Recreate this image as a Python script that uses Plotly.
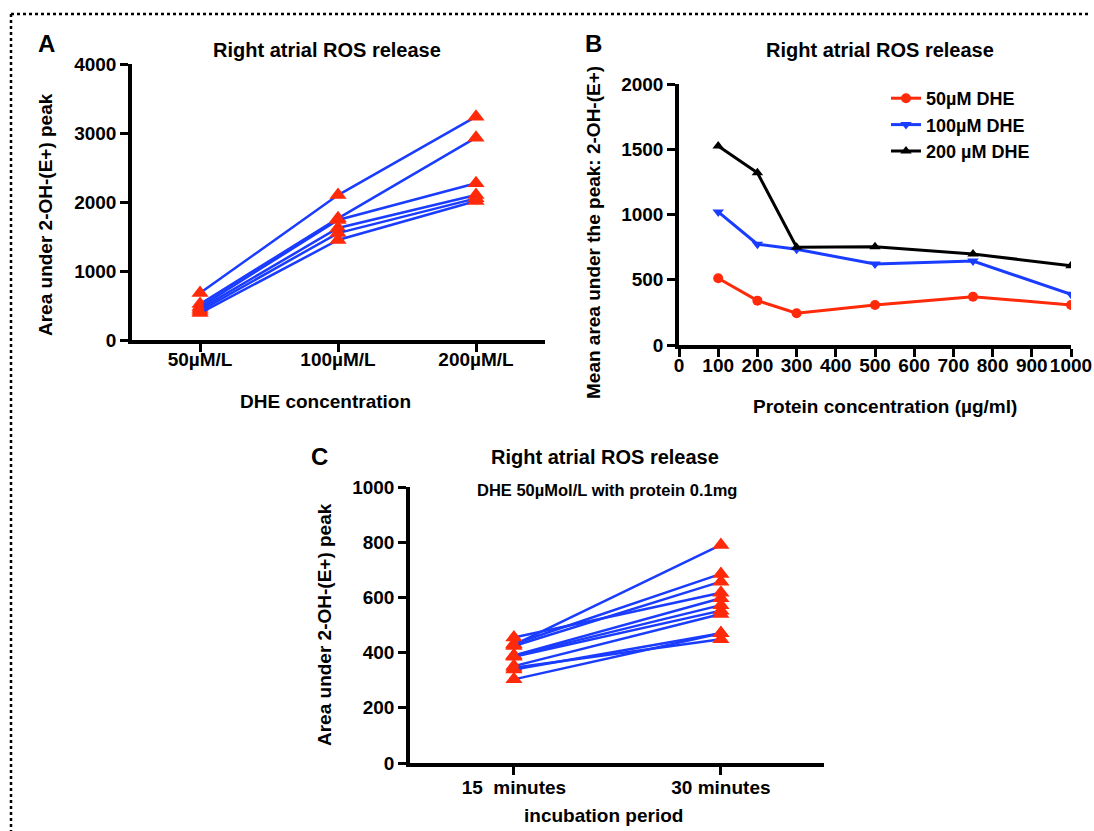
import plotly.graph_objects as go

# ---- Panel A: ROS release vs DHE concentration (paired subjects) ----
dhe_labels = ["50µM/L", "100µM/L", "200µM/L"]
a_subject1 = [680, 2100, 3237]
a_subject2 = [520, 1763, 2932]
a_subject3 = [480, 1740, 2271]
a_subject4 = [450, 1623, 2101]
a_subject5 = [420, 1550, 2053]
a_subject6 = [390, 1449, 2014]
a_subjects = [a_subject1, a_subject2, a_subject3, a_subject4, a_subject5, a_subject6]

# ---- Panel B: mean area vs protein concentration ----
protein_conc = [100, 200, 300, 500, 750, 1000]
b_dhe50 = [511, 340, 243, 307, 370, 307]
b_dhe100 = [1020, 772, 733, 621, 644, 388]
b_dhe200 = [1525, 1320, 749, 753, 697, 608]

# ---- Panel C: incubation period (paired samples) ----
c_labels = ["15  minutes", "30 minutes"]
c_15min = [428, 431, 424, 455, 390, 388, 385, 351, 345, 339, 303]
c_30min = [790, 685, 657, 617, 597, 572, 552, 540, 448, 470, 470]

W, H = 1094, 831
RED = "#ff2a0a"
BLUE = "#1a3cff"
FONT = "Liberation Sans"
FS = 19


def px_x(p):
    return p / W


def px_y(p):
    return 1 - p / H


fig = go.Figure()

# Panel A traces
for vals in a_subjects:
    fig.add_trace(go.Scatter(
        x=[0, 1, 2], y=vals, mode="lines+markers",
        line=dict(color=BLUE, width=2.5),
        marker=dict(symbol="triangle-up", size=15, color=RED),
        xaxis="x", yaxis="y", showlegend=False,
    ))

# Panel B traces
fig.add_trace(go.Scatter(
    x=protein_conc, y=b_dhe50, mode="lines+markers", name="50µM DHE",
    line=dict(color=RED, width=3), marker=dict(symbol="circle", size=10, color=RED),
    xaxis="x2", yaxis="y2"))
fig.add_trace(go.Scatter(
    x=protein_conc, y=b_dhe100, mode="lines+markers", name="100µM DHE",
    line=dict(color=BLUE, width=3), marker=dict(symbol="triangle-down", size=10, color=BLUE),
    xaxis="x2", yaxis="y2"))
fig.add_trace(go.Scatter(
    x=protein_conc, y=b_dhe200, mode="lines+markers", name="200 µM DHE",
    line=dict(color="black", width=3), marker=dict(symbol="triangle-up", size=10, color="black"),
    xaxis="x2", yaxis="y2"))

# Panel C traces
for v15, v30 in zip(c_15min, c_30min):
    fig.add_trace(go.Scatter(
        x=[0, 1], y=[v15, v30], mode="lines+markers",
        line=dict(color=BLUE, width=2.5),
        marker=dict(symbol="triangle-up", size=15, color=RED),
        xaxis="x3", yaxis="y3", showlegend=False,
    ))

tickfont = dict(family=FONT, size=FS, color="black", weight="bold")
axis_common = dict(
    showline=True, linecolor="black", linewidth=3.5, ticks="outside",
    ticklen=8, tickwidth=3, tickcolor="black", showgrid=False, zeroline=False,
    tickfont=tickfont, fixedrange=True, automargin=False, tickangle=0,
)

fig.update_layout(
    width=W, height=H,
    margin=dict(l=0, r=0, t=0, b=0, autoexpand=False),
    paper_bgcolor="white", plot_bgcolor="white",
    font=dict(family=FONT, color="black"),
    xaxis=dict(domain=[px_x(132), px_x(545)], range=[-0.493, 2.5],
               tickvals=[0, 1, 2], ticktext=dhe_labels, anchor="y",
               ticklabelstandoff=-9, **axis_common),
    yaxis=dict(domain=[px_y(340), px_y(64)], range=[0, 4000],
               tickvals=[0, 1000, 2000, 3000, 4000], anchor="x", **axis_common),
    xaxis2=dict(domain=[px_x(679), px_x(1071)], range=[0, 1000],
                tickvals=list(range(0, 1001, 100)), anchor="y2",
                ticklabelstandoff=-8, **axis_common),
    yaxis2=dict(domain=[px_y(345), px_y(84)], range=[0, 2000],
                tickvals=[0, 500, 1000, 1500, 2000], anchor="x2", **axis_common),
    xaxis3=dict(domain=[px_x(410), px_x(824)], range=[-0.502, 1.498],
                tickvals=[0, 1], ticktext=c_labels, anchor="y3",
                ticklabelstandoff=-4, **axis_common),
    yaxis3=dict(domain=[px_y(763), px_y(487)], range=[0, 1000],
                tickvals=[0, 200, 400, 600, 800, 1000], anchor="x3", **axis_common),
    legend=dict(x=px_x(886), y=px_y(80), xanchor="left", yanchor="top",
                font=dict(family=FONT, size=18, color="black", weight="bold"),
                bgcolor="rgba(0,0,0,0)", tracegroupgap=0),
)


def label(text, x, y, size=FS, angle=0):
    fig.add_annotation(
        text=f"<b>{text}</b>", x=px_x(x), y=px_y(y), xref="paper", yref="paper",
        showarrow=False, xanchor="center", yanchor="middle", textangle=angle,
        font=dict(family=FONT, size=size, color="black"),
    )


# Panel letters
label("A", 46, 43, size=24)
label("B", 593, 43, size=24)
label("C", 319, 456, size=24)

# Titles
label("Right atrial ROS release", 327, 50, size=20)
label("Right atrial ROS release", 880, 50, size=20)
label("Right atrial ROS release", 605, 457, size=20)
label("DHE 50µMol/L with protein 0.1mg", 607, 490, size=16.5)

# Axis titles
label("DHE concentration", 325, 401)
label("Area under 2-OH-(E+) peak", 45, 215, angle=-90)
label("Protein concentration (µg/ml)", 885, 406)
label("Mean area under the peak: 2-OH-(E+)", 593, 233, angle=-90)
label("incubation period", 603, 815)
label("Area under 2-OH-(E+) peak", 324, 625, angle=-90)

# Dotted frame along the top and left edges
fig.add_shape(type="line", xref="paper", yref="paper", x0=px_x(11), x1=px_x(1090),
              y0=px_y(14), y1=px_y(14), line=dict(color="black", width=2.5, dash="dot"))
fig.add_shape(type="line", xref="paper", yref="paper", x0=px_x(11), x1=px_x(11),
              y0=px_y(14), y1=px_y(831), line=dict(color="black", width=2.5, dash="dot"))

fig.write_html("out.html")
